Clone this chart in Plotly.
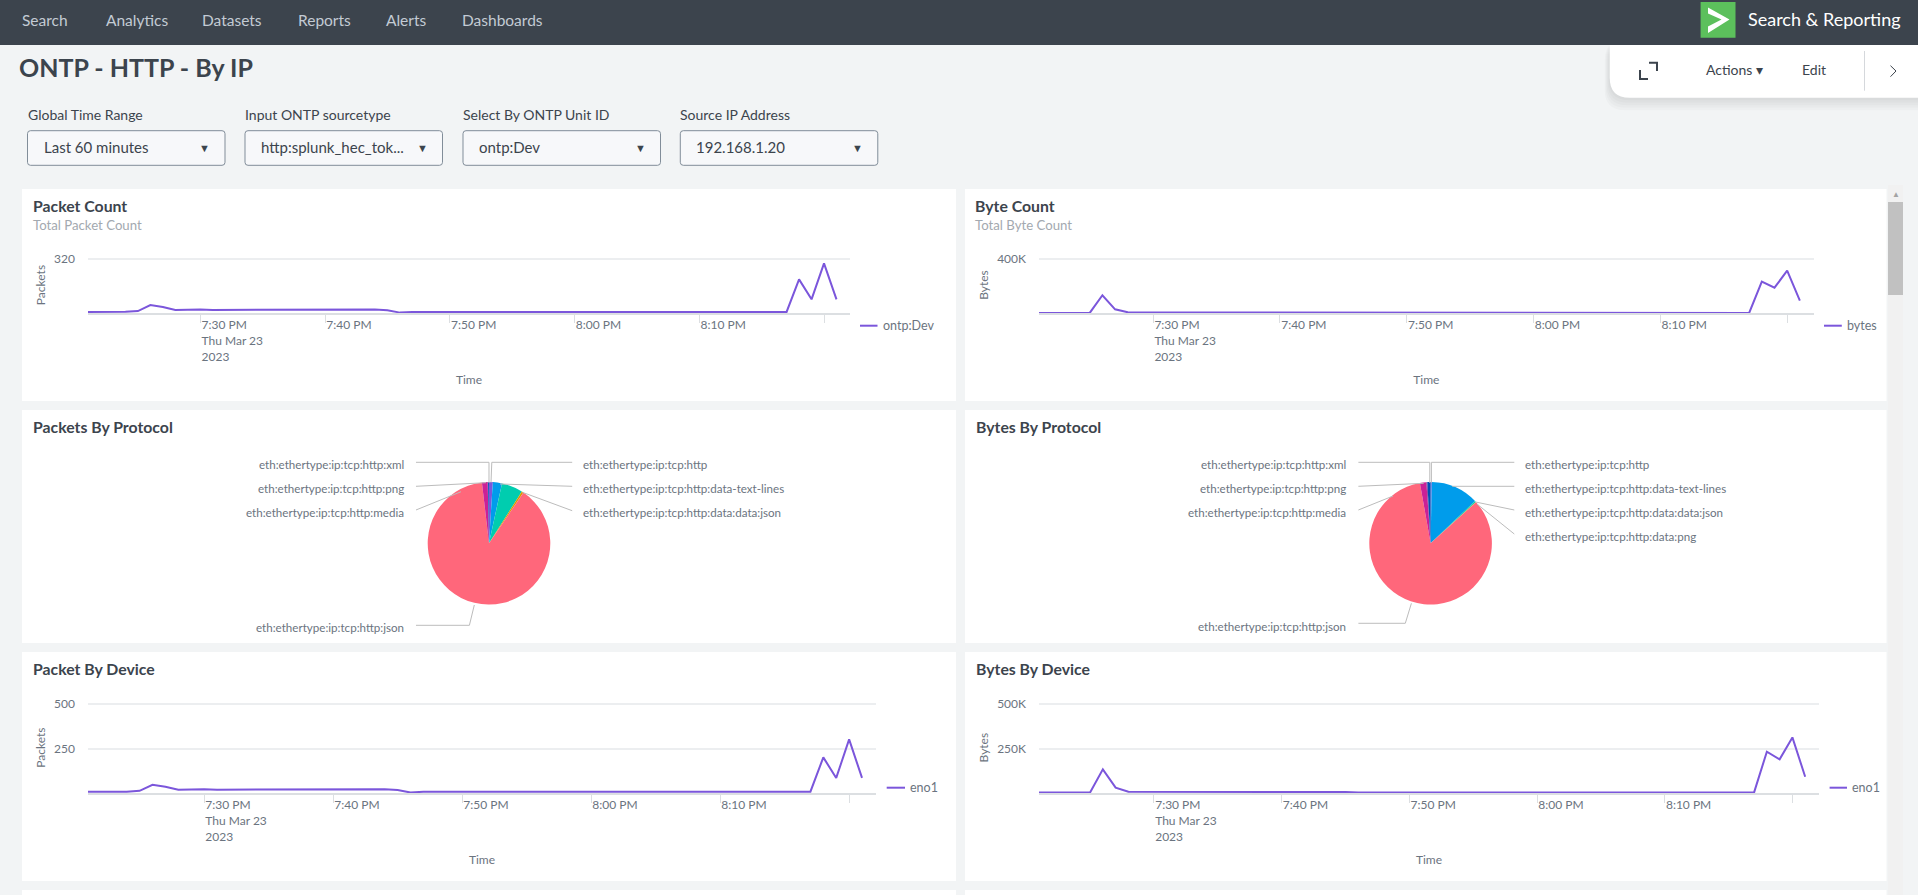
# -*- coding: utf-8 -*-
"""
ONTP HTTP dashboard
===================================

Splunk style dashboard page drawn as one plotly figure.
"""
#%% # This is a text block

import plotly.express as px
import pandas as pd

W, H = 1918, 895
PURPLE = "#7B56DB"
INK = "#3c444d"
GREY = "#6b7480"

times = pd.date_range("2023-03-23 19:21", "2023-03-23 20:21", freq="min")
tick_times = pd.date_range("2023-03-23 19:30", "2023-03-23 20:20", freq="10min")
tick_text = ["7:30 PM<br>Thu Mar 23<br>2023", "7:40 PM", "7:50 PM", "8:00 PM", "8:10 PM", ""]

packets = [8, 8, 8, 9, 13, 48, 37, 20, 21, 23, 20, 20, 21, 21, 22, 22, 21, 23, 21, 21,
           22, 23, 20, 23, 18, 4, 7, 8, 8, 8, 8, 8, 8, 8, 8, 8, 8, 8, 8, 8,
           8, 8, 8, 8, 8, 8, 8, 8, 8, 8, 8, 8, 8, 8, 8, 8, 8, 199, 82, 293, 82]
packets_device = [9, 9, 9, 9, 14, 48, 37, 20, 21, 23, 20, 20, 21, 21, 22, 22, 21, 23, 21, 21,
                  22, 23, 20, 23, 18, 5, 8, 9, 9, 9, 9, 9, 9, 9, 9, 9, 9, 9, 9, 9,
                  9, 9, 9, 9, 9, 9, 9, 9, 9, 9, 9, 9, 9, 9, 9, 9, 9, 201, 86, 302, 86]
byte_count = [3000, 3000, 3000, 3000, 3000, 132000, 29000, 7000, 7000, 8000, 6000, 6000, 6000, 6000, 7000, 7000, 6000, 8000, 6000, 6000,
              7000, 7000, 6000, 7000, 5000, 3000, 3000, 3000, 3000, 3000, 3000, 3000, 3000, 3000, 3000, 3000, 3000, 3000, 3000, 3000,
              3000, 3000, 3000, 3000, 3000, 3000, 3000, 3000, 3000, 3000, 3000, 3000, 3000, 3000, 3000, 3000, 3000, 232000, 188000, 312000, 93000]
byte_device = [5000, 5000, 5000, 5000, 5000, 134000, 32000, 9000, 9000, 10000, 8000, 8000, 8000, 8000, 9000, 9000, 8000, 10000, 8000, 8000,
               9000, 9000, 8000, 9000, 7000, 5000, 5000, 5000, 5000, 5000, 5000, 5000, 5000, 5000, 5000, 5000, 5000, 5000, 5000, 5000,
               5000, 5000, 5000, 5000, 5000, 5000, 5000, 5000, 5000, 5000, 5000, 5000, 5000, 5000, 5000, 5000, 5000, 233000, 190000, 313000, 93000]

protocols = ["eth:ethertype:ip:tcp:http", "eth:ethertype:ip:tcp:http:data-text-lines",
             "eth:ethertype:ip:tcp:http:data:data:json", "eth:ethertype:ip:tcp:http:data:png",
             "eth:ethertype:ip:tcp:http:json", "eth:ethertype:ip:tcp:http:media",
             "eth:ethertype:ip:tcp:http:png", "eth:ethertype:ip:tcp:http:xml"]
slice_colors = ["#7B56DB", "#009CEB", "#00CDAF", "#DD9900", "#FF677B", "#CB2196", "#813193", "#0051B5"]
packet_shares = [1.0, 2.4, 5.6, 0.5, 88.65, 1.5, 0.1, 0.25]
byte_shares = [0.3, 12.6, 0.3, 0.1, 83.9, 1.7, 0.25, 0.85]

# name, y values, series name, pixel box of plot, ticks, axis title, legend position
line_charts = [
    (packets, "ontp:Dev", (88, 850, 258.7, 313.3), [0, 320], ["", "320"], "Packets", 320, (860, 877.5, 882, 325.7)),
    (byte_count, "bytes", (1039, 1813.6, 258.7, 313.3), [0, 400000], ["", "400K"], "Bytes", 400000, (1824, 1841.8, 1845.8, 325.7)),
    (packets_device, "eno1", (88, 876, 704, 793.3), [0, 250, 500], ["", "250", "500"], "Packets", 500, (886.7, 905, 909, 787.7)),
    (byte_device, "eno1", (1039, 1819, 704, 793.3), [0, 250000, 500000], ["", "250K", "500K"], "Bytes", 500000, (1829.6, 1847, 1851.3, 787.7)),
]


def px_x(x):
    return x / W


def px_y(y):
    return 1 - y / H


def note(x, y, text, size=12, color=GREY, anchor="left", family="Lato"):
    return dict(xref="paper", yref="paper", x=px_x(x), y=px_y(y), text=text, showarrow=False,
                xanchor=anchor, yanchor="middle", borderpad=0,
                font=dict(size=size, color=color, family=family))


def box(x0, y0, x1, y1, color, line=None, opacity=1, layer="below"):
    return dict(type="rect", xref="paper", yref="paper", x0=px_x(x0), x1=px_x(x1), y0=px_y(y0), y1=px_y(y1),
                fillcolor=color, opacity=opacity, layer=layer, line=dict(width=1 if line else 0, color=line or color))


def stroke(points, color="#bcbcbc", width=1, layer="above"):
    d = "M" + " L".join(f"{px_x(x):.5f},{px_y(y):.5f}" for x, y in points)
    return dict(type="path", xref="paper", yref="paper", path=d, layer=layer, line=dict(color=color, width=width))


def rounded(x0, y0, x1, y1, r, color, line=None, opacity=1):
    # only the path is rounded, the corners are plain quadratic curves
    pts = [f"M{px_x(x0 + r):.5f},{px_y(y0):.5f}", f"L{px_x(x1 - r):.5f},{px_y(y0):.5f}",
           f"Q{px_x(x1):.5f},{px_y(y0):.5f} {px_x(x1):.5f},{px_y(y0 + r):.5f}",
           f"L{px_x(x1):.5f},{px_y(y1 - r):.5f}",
           f"Q{px_x(x1):.5f},{px_y(y1):.5f} {px_x(x1 - r):.5f},{px_y(y1):.5f}",
           f"L{px_x(x0 + r):.5f},{px_y(y1):.5f}",
           f"Q{px_x(x0):.5f},{px_y(y1):.5f} {px_x(x0):.5f},{px_y(y1 - r):.5f}",
           f"L{px_x(x0):.5f},{px_y(y0 + r):.5f}",
           f"Q{px_x(x0):.5f},{px_y(y0):.5f} {px_x(x0 + r):.5f},{px_y(y0):.5f}Z"]
    return dict(type="path", xref="paper", yref="paper", path=" ".join(pts), fillcolor=color, opacity=opacity,
                layer="below", line=dict(width=1 if line else 0, color=line or color))


# Create the line charts, each on its own pair of axes
fig = None
axes = {}
shapes = []
notes = []
for i, (values, name, (left, right, top, bottom), yticks, ylabels, ytitle, ymax, (lx0, lx1, ltext, ly)) in enumerate(line_charts):
    suffix = "" if i == 0 else str(i + 1)
    trace = px.line(x=times, y=values).data[0]
    trace.update(name=name, showlegend=False, line=dict(color=PURPLE, width=2),
                 xaxis="x" + suffix, yaxis="y" + suffix)
    if fig is None:
        fig = px.line(x=times, y=values)
        fig.data = []
    fig.add_trace(trace)
    axes["xaxis" + suffix] = dict(domain=[px_x(left), px_x(right)], anchor="y" + suffix,
                                  range=["2023-03-23 19:21:00", "2023-03-23 20:22:05"], tickvals=tick_times, ticktext=tick_text,
                                  ticks="outside", ticklen=8, tickcolor="#dcdfe2", showgrid=False, showline=True,
                                  linecolor="#dcdfe2", linewidth=1.5, ticklabelposition="outside right",
                                  tickfont=dict(size=12, color=GREY), title=dict(text="Time", standoff=13, font=dict(size=12, color=GREY)))
    # a little room above the top tick, a grid line right on the edge is not drawn
    room = 2 / (bottom - top)
    axes["yaxis" + suffix] = dict(domain=[px_y(bottom), px_y(top - 2)], anchor="x" + suffix, range=[0, ymax * (1 + room)],
                                  tickvals=yticks, ticktext=ylabels, showgrid=True, gridcolor="#eceef0", gridwidth=1.5,
                                  zeroline=False, ticklabelstandoff=12, tickfont=dict(size=12, color=GREY),
                                  title=dict(text=ytitle, standoff=5, font=dict(size=12, color=GREY)))
    shapes.append(stroke([(lx0, ly), (lx1, ly)], PURPLE, 2))
    notes.append(note(ltext, ly, name, size=12.5))

# Create the pie charts
pies = [(packet_shares, 489, "Packets"), (byte_shares, 1430.6, "Bytes")]
for shares, cx, name in pies:
    pie = px.pie(names=protocols, values=shares).data[0]
    pie.update(sort=False, direction="clockwise", rotation=0, textinfo="none", marker_colors=slice_colors,
               marker_line=dict(color="white", width=0), showlegend=False, name=name,
               domain=dict(x=[px_x(cx - 61.3), px_x(cx + 61.3)], y=[px_y(543.3 + 61.3), px_y(543.3 - 61.3)]))
    fig.add_trace(pie)

# labels and leader lines of the pies, read in pixels
for text, y, x, line in [
    ("eth:ethertype:ip:tcp:http:xml", 464.3, 405, [(416, 462.3), (489, 462.3), (489, 483)]),
    ("eth:ethertype:ip:tcp:http:png", 488.7, 405, [(416, 486.3), (486, 482.7)]),
    ("eth:ethertype:ip:tcp:http:media", 512.3, 405, [(416, 510), (461, 491.7)]),
    ("eth:ethertype:ip:tcp:http:json", 627.3, 405, [(416, 625.3), (469.4, 625.3), (474.3, 605)]),
    ("eth:ethertype:ip:tcp:http:xml", 464.3, 1347, [(1358.4, 462.3), (1429.8, 462.3), (1429.8, 483)]),
    ("eth:ethertype:ip:tcp:http:png", 488.7, 1347, [(1358.4, 486.3), (1423.7, 483.3)]),
    ("eth:ethertype:ip:tcp:http:media", 512.3, 1347, [(1358.4, 510), (1393, 496)]),
    ("eth:ethertype:ip:tcp:http:json", 626.3, 1347, [(1358.4, 623.3), (1405.3, 623.3), (1411.4, 603.3)]),
]:
    notes.append(note(x, y, text, size=11.6, anchor="right"))
    shapes.append(stroke(line))
for text, y, x, line in [
    ("eth:ethertype:ip:tcp:http", 464.3, 581.5, [(572.2, 462.3), (491.8, 462.3), (491, 482.7)]),
    ("eth:ethertype:ip:tcp:http:data-text-lines", 488.7, 581.5, [(572.2, 486.3), (500, 484)]),
    ("eth:ethertype:ip:tcp:http:data:data:json", 512.3, 581.5, [(572.2, 510.7), (522.4, 492.3)]),
    ("eth:ethertype:ip:tcp:http", 464.3, 1524.2, [(1514.3, 462.3), (1431.4, 462.3), (1431.4, 482.7)]),
    ("eth:ethertype:ip:tcp:http:data-text-lines", 488.7, 1524.2, [(1514.3, 486.3), (1452.2, 486.3)]),
    ("eth:ethertype:ip:tcp:http:data:data:json", 512.3, 1524.2, [(1514.3, 510), (1475.5, 502)]),
    ("eth:ethertype:ip:tcp:http:data:png", 536.3, 1524.2, [(1514.3, 534), (1477, 504)]),
]:
    notes.append(note(x, y, text, size=11.6))
    shapes.append(stroke(line))

# The page around the charts
page = [box(0, 0, W, 45, INK)]
for k in range(5, 0, -1):  # soft shadow of the toolbar
    page.append(rounded(1609.7 - k, 40, W + 20, 97.7 + 2.5 * k, 20, "#000000", opacity=0.018))
page.append(rounded(1609.7, 25, W + 20, 97.7, 20, "white"))
page.append(box(0, 0, W, 45, INK))
page.append(box(1700.6, 2, 1735.5, 37.7, "#5CC05C"))
page.append(dict(type="path", xref="paper", yref="paper", layer="below", fillcolor="white", line=dict(width=0),
                 path="M" + " L".join(f"{px_x(x):.5f},{px_y(y):.5f}" for x, y in
                                      [(1708, 7.5), (1729.5, 19.5), (1708, 33), (1708, 26.5), (1721.5, 19.5), (1708, 13.5)]) + "Z"))
for x0, y0, x1, y1 in [(22, 189, 956, 401), (965, 189, 1886.5, 401), (22, 410, 956, 643), (965, 410, 1886.5, 643),
                       (22, 652, 956, 881), (965, 652, 1886.5, 881), (22, 890, 956, 900), (965, 890, 1886.5, 900)]:
    page.append(box(x0, y0, x1, y1, "white"))
page.append(box(1888, 185, 1903, H, "#f1f1f1"))
page.append(box(1888, 202, 1903, 295, "#c1c1c1"))
shapes.append(stroke([(1640, 70), (1640, 79), (1648, 79)], INK, 2))
shapes.append(stroke([(1649, 62.7), (1657, 62.7), (1657, 71)], INK, 2))
shapes.append(stroke([(1864.5, 51), (1864.5, 90.7)], "#d5d8dc", 1))
shapes.append(stroke([(1890.5, 65.7), (1896, 71), (1890.5, 76.7)], INK, 1))

for x, text in [(20.5, "Search"), (104.5, "Analytics"), (201, "Datasets"), (296.5, "Reports"), (385, "Alerts"), (460.5, "Dashboards")]:
    notes.append(note(x, 20.3, text, size=15.5, color="#c3cbd4"))
notes.append(note(1747, 19.3, "Search &amp; Reporting", size=18, color="white"))
notes.append(note(18, 67, "<b>ONTP - HTTP - By IP</b>", size=25, color=INK))
notes.append(note(1704.5, 69.5, "Actions ▾", size=14, color=INK))
notes.append(note(1801, 69.5, "Edit", size=14, color=INK))
notes.append(note(1895.7, 194, "▲", size=8, color="#a3a3a3", anchor="center"))

for x0, label, value in [(27.5, "Global Time Range", "Last 60 minutes"), (245, "Input ONTP sourcetype", "http:splunk_hec_tok..."),
                         (463, "Select By ONTP Unit ID", "ontp:Dev"), (680.3, "Source IP Address", "192.168.1.20")]:
    page.append(rounded(x0, 130.7, x0 + 197.5, 165.3, 3, "#f7f8fa", line="#818d99"))
    notes.append(note(x0 - 1, 114.7, label, size=14, color=INK))
    notes.append(note(x0 + 15, 147.3, value, size=15, color=INK))
    notes.append(note(x0 + 177, 147.3, "▼", size=11, color=INK, anchor="center"))

for x, y, title, subtitle in [(32, 205.3, "Packet Count", "Total Packet Count"), (974.5, 205.3, "Byte Count", "Total Byte Count"),
                              (32, 426, "Packets By Protocol", None), (974.5, 426, "Bytes By Protocol", None),
                              (32, 668.3, "Packet By Device", None), (974.5, 668.3, "Bytes By Device", None)]:
    notes.append(note(x, y, f"<b>{title}</b>", size=15.8, color=INK))
    if subtitle:
        notes.append(note(x, 225, subtitle, size=13.2, color="#a3a9b0"))

fig.update_layout(template="none", width=W, height=H, autosize=False, margin=dict(l=0, r=0, t=0, b=0, pad=0),
                  paper_bgcolor="#f2f4f5", plot_bgcolor="rgba(0,0,0,0)", font=dict(family="Lato", color=GREY),
                  showlegend=False, shapes=page + shapes, annotations=notes, **axes)

fig.write_html("out.html", config={"displayModeBar": False},
               post_script="document.body.style.margin='0';document.body.style.overflow='hidden';")
